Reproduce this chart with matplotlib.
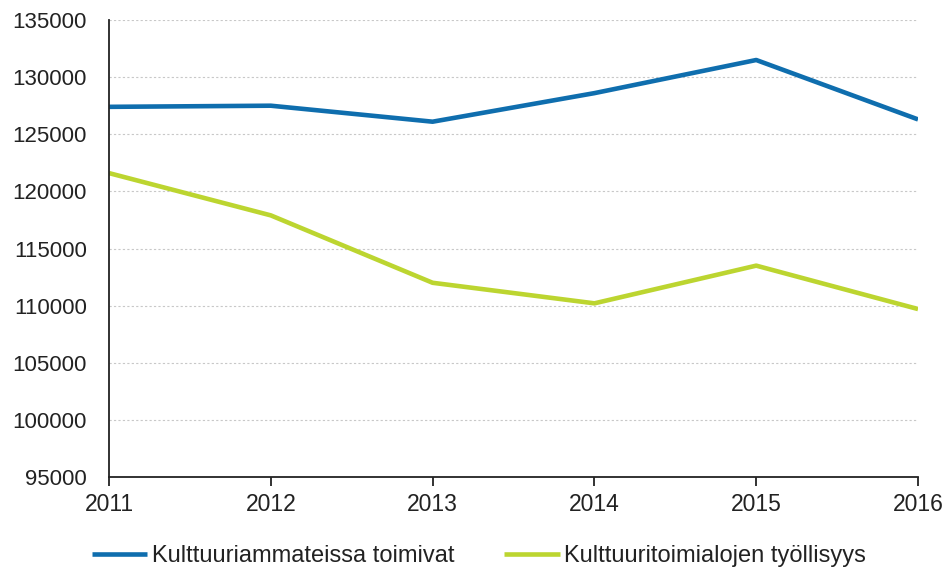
import matplotlib
matplotlib.use("Agg")
import matplotlib.pyplot as plt

years = [2011, 2012, 2013, 2014, 2015, 2016]
ammateissa = [127400, 127500, 126100, 128600, 131500, 126300]
toimialojen = [121600, 117900, 112000, 110200, 113500, 109700]
labels = ["Kulttuuriammateissa toimivat", "Kulttuuritoimialojen työllisyys"]

plt.rcParams['font.family'] = ['Liberation Sans', 'DejaVu Sans']
fig = plt.figure(figsize=(9.47, 5.72), dpi=100)
ax = fig.add_axes([0.1151, 0.1661, 0.8543, 0.7989])

ax.plot(years, ammateissa, color='#0f6eae', lw=3.3, label=labels[0], solid_capstyle='butt')
ax.plot(years, toimialojen, color='#bcd530', lw=3.3, label=labels[1], solid_capstyle='butt')

ax.set_xlim(2011, 2016)
ax.set_ylim(95000, 135000)
ax.set_yticks(range(95000, 135001, 5000))
ax.set_xticks(years)
ax.yaxis.grid(True, color='#c8c8c8', linestyle=(0, (2, 2)), lw=0.8)
ax.set_axisbelow(True)
for s in ['top', 'right']:
    ax.spines[s].set_visible(False)
for s in ['left', 'bottom']:
    ax.spines[s].set_color('#222222')
    ax.spines[s].set_linewidth(1.3)
ax.tick_params(axis='y', length=0, labelsize=16, pad=16, colors='#222222')
ax.tick_params(axis='x', length=6.5, width=1.3, direction='out', labelsize=16.5, pad=5, colors='#222222')

leg = fig.legend(loc='center', bbox_to_anchor=(0.506, 0.028), ncol=2, frameon=False,
                 fontsize=17, handlelength=2.35, handletextpad=0.2, columnspacing=2.1)
for t in leg.get_texts():
    t.set_color('#222222')

fig.savefig('out.png', dpi=100)
